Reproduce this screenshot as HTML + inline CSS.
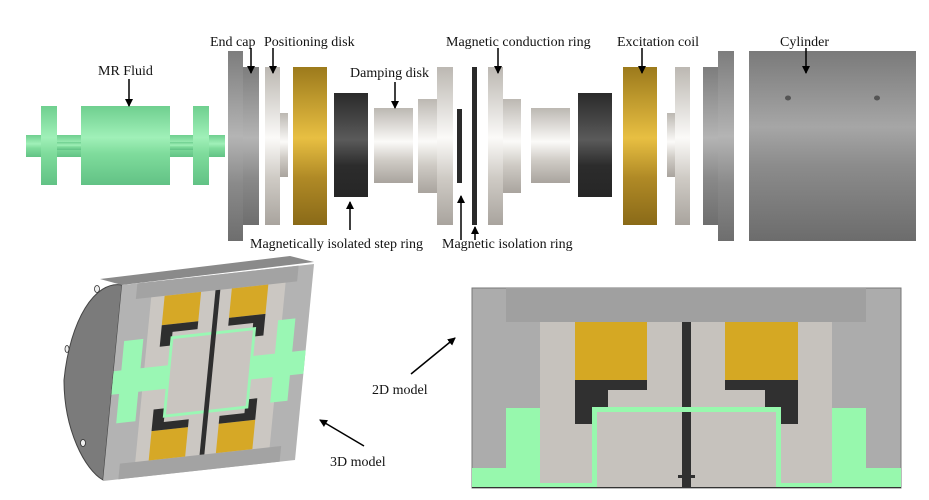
<!DOCTYPE html>
<html><head><meta charset="utf-8"><style>
html,body{margin:0;padding:0;background:#fff;}
svg{display:block;}
text{font-family:"Liberation Serif",serif;font-size:14px;fill:#111;}
</style></head><body>
<svg width="929" height="500" viewBox="0 0 929 500" xmlns="http://www.w3.org/2000/svg">
<defs>
<linearGradient id="gr" x1="0" y1="0" x2="0" y2="1">
<stop offset="0" stop-color="#6fcf8f"/><stop offset="0.4" stop-color="#a0f0b8"/><stop offset="0.6" stop-color="#7fdc9c"/><stop offset="1" stop-color="#62c285"/></linearGradient>
<linearGradient id="sv" x1="0" y1="0" x2="0" y2="1">
<stop offset="0" stop-color="#bcb8b2"/><stop offset="0.45" stop-color="#fbfaf8"/><stop offset="0.7" stop-color="#cfcbc5"/><stop offset="1" stop-color="#a9a49e"/></linearGradient>
<linearGradient id="dg" x1="0" y1="0" x2="0" y2="1">
<stop offset="0" stop-color="#7d7d7d"/><stop offset="0.45" stop-color="#b4b4b4"/><stop offset="0.7" stop-color="#8a8a8a"/><stop offset="1" stop-color="#6e6e6e"/></linearGradient>
<linearGradient id="cy" x1="0" y1="0" x2="0" y2="1">
<stop offset="0" stop-color="#7a7a7a"/><stop offset="0.4" stop-color="#a6a6a6"/><stop offset="0.6" stop-color="#8c8c8c"/><stop offset="1" stop-color="#6c6c6c"/></linearGradient>
<linearGradient id="au" x1="0" y1="0" x2="0" y2="1">
<stop offset="0" stop-color="#9c7a1c"/><stop offset="0.45" stop-color="#e8bf42"/><stop offset="0.7" stop-color="#b08a26"/><stop offset="1" stop-color="#8a6a18"/></linearGradient>
<linearGradient id="bk" x1="0" y1="0" x2="0" y2="1">
<stop offset="0" stop-color="#2a2a2a"/><stop offset="0.45" stop-color="#5a5a5a"/><stop offset="0.7" stop-color="#2c2c2c"/><stop offset="1" stop-color="#262626"/></linearGradient>
<marker id="ah" markerWidth="8" markerHeight="8" refX="7" refY="4" orient="auto" markerUnits="userSpaceOnUse"><path d="M0,0 L8,4 L0,8 z" fill="#000"/></marker>
</defs>

<!-- MR fluid -->
<rect x="26" y="135" width="199" height="22" fill="url(#gr)"/>
<rect x="57" y="142" width="136" height="8" fill="url(#gr)"/>
<rect x="41" y="106" width="16" height="79" fill="url(#gr)"/>
<rect x="193" y="106" width="16" height="79" fill="url(#gr)"/>
<rect x="81" y="106" width="89" height="79" fill="url(#gr)"/>

<!-- parts -->
<rect x="228" y="51" width="15" height="190" fill="url(#dg)"/>
<rect x="243" y="67" width="16" height="158" fill="url(#dg)"/>
<rect x="265" y="67" width="15" height="158" fill="url(#sv)"/>
<rect x="280" y="113" width="8" height="64" fill="url(#sv)"/>
<rect x="293" y="67" width="34" height="158" fill="url(#au)"/>
<rect x="334" y="93" width="34" height="104" fill="url(#bk)"/>
<rect x="374" y="108" width="39" height="75" fill="url(#sv)"/>
<rect x="418" y="99" width="19" height="94" fill="url(#sv)"/>
<rect x="437" y="67" width="16" height="158" fill="url(#sv)"/>
<rect x="457" y="109" width="5" height="74" fill="#2a2a2a"/>
<rect x="472" y="67" width="5" height="158" fill="#2a2a2a"/>
<rect x="488" y="67" width="15" height="158" fill="url(#sv)"/>
<rect x="503" y="99" width="18" height="94" fill="url(#sv)"/>
<rect x="531" y="108" width="39" height="75" fill="url(#sv)"/>
<rect x="578" y="93" width="34" height="104" fill="url(#bk)"/>
<rect x="623" y="67" width="34" height="158" fill="url(#au)"/>
<rect x="667" y="113" width="8" height="64" fill="url(#sv)"/>
<rect x="675" y="67" width="15" height="158" fill="url(#sv)"/>
<rect x="703" y="67" width="15" height="158" fill="url(#dg)"/>
<rect x="718" y="51" width="16" height="190" fill="url(#dg)"/>
<rect x="749" y="51" width="167" height="190" fill="url(#cy)"/>
<ellipse cx="788" cy="98" rx="3" ry="2.5" fill="#555"/>
<ellipse cx="877" cy="98" rx="3" ry="2.5" fill="#555"/>

<!-- top labels -->
<text x="210" y="46">End cap</text>
<text x="264" y="46">Positioning disk</text>
<text x="98" y="75">MR Fluid</text>
<text x="350" y="77">Damping disk</text>
<text x="446" y="46">Magnetic conduction ring</text>
<text x="617" y="46">Excitation coil</text>
<text x="780" y="46">Cylinder</text>
<text x="250" y="248">Magnetically isolated step ring</text>
<text x="442" y="248">Magnetic isolation ring</text>
<g stroke="#000" stroke-width="1.5" marker-end="url(#ah)">
<line x1="129" y1="79" x2="129" y2="106"/>
<line x1="251" y1="48" x2="251" y2="73"/>
<line x1="273" y1="48" x2="273" y2="73"/>
<line x1="395" y1="82" x2="395" y2="108"/>
<line x1="498" y1="48" x2="498" y2="73"/>
<line x1="642" y1="48" x2="642" y2="73"/>
<line x1="806" y1="48" x2="806" y2="73"/>
<line x1="350" y1="230" x2="350" y2="202"/>
<line x1="461" y1="240" x2="461" y2="196"/>
<line x1="475" y1="240" x2="475" y2="227"/>
</g>

<!-- 3D model -->
<path d="M122,285 C95,280 70,320 64,380 C64,430 85,470 103,480 Z" fill="#7b7b7b" stroke="#444" stroke-width="1"/>
<path d="M100,279 L290,256 L314,262 L122,285 Z" fill="#8a8a8a"/>
<ellipse cx="97" cy="289" rx="2.5" ry="3.5" fill="#eee" stroke="#333" stroke-width="0.8"/>
<ellipse cx="67" cy="349" rx="2" ry="3.5" fill="#eee" stroke="#333" stroke-width="0.8"/>
<ellipse cx="83" cy="443" rx="2.5" ry="3.5" fill="#eee" stroke="#333" stroke-width="0.8"/>
<g transform="matrix(1.92,-0.21,-0.19,1.96,122,285)">
<rect x="0" y="0" width="100" height="100" fill="#b3b3b3"/>
<rect x="16" y="6" width="70" height="88" fill="#cbc7c2"/>
<rect x="8" y="0" width="84" height="8" fill="#a3a3a3"/>
<rect x="8" y="92" width="84" height="8" fill="#a3a3a3"/>
<rect x="23" y="8" width="19" height="15" fill="#d6a826"/>
<rect x="58" y="8" width="19" height="15" fill="#d6a826"/>
<rect x="23" y="77" width="19" height="15" fill="#d6a826"/>
<rect x="58" y="77" width="19" height="15" fill="#d6a826"/>
<path d="M23,23 h19 v4 h-13 v7 h-6z M77,23 h-19 v4 h13 v7 h6z M23,77 h19 v-4 h-13 v-7 h-6z M77,77 h-19 v-4 h13 v-7 h6z" fill="#2e2e2e"/>
<rect x="0" y="44" width="100" height="12" fill="#9af7b4"/>
<rect x="4" y="29" width="10" height="42" fill="#9af7b4"/>
<rect x="84" y="27" width="9" height="42" fill="#9af7b4"/>
<rect x="29" y="30" width="43" height="40" fill="#c9c5c0" stroke="#9af7b4" stroke-width="1.5"/>
<rect x="49.5" y="8" width="2.5" height="84" fill="#2e2e2e"/>
</g>

<!-- 3D / 2D labels -->
<text x="330" y="466">3D model</text>
<line x1="364" y1="446" x2="320" y2="420" stroke="#000" stroke-width="1.5" marker-end="url(#ah)"/>
<text x="372" y="394">2D model</text>
<line x1="411" y1="374" x2="455" y2="338" stroke="#000" stroke-width="1.5" marker-end="url(#ah)"/>

<!-- 2D model -->
<rect x="472" y="288" width="429" height="200" fill="#acacac" stroke="#777" stroke-width="1"/>
<rect x="506" y="288" width="360" height="34" fill="#a0a0a0"/>
<rect x="540" y="322" width="292" height="162" fill="#c6c2bd"/>
<rect x="575" y="322" width="72" height="58" fill="#d5a823"/>
<rect x="725" y="322" width="73" height="58" fill="#d5a823"/>
<path d="M575,380 h72 v10 h-39 v34 h-33z" fill="#303030"/>
<path d="M798,380 h-73 v10 h40 v34 h33z" fill="#303030"/>
<path d="M506,408 h34 v76 h-68 v-16 h34z" fill="#97f8ad"/>
<path d="M866,408 h-34 v76 h69 v-16 h-35z" fill="#97f8ad"/>
<rect x="472" y="483" width="429" height="4" fill="#97f8ad"/>
<rect x="592" y="407" width="189" height="81" fill="#97f8ad"/>
<rect x="597" y="412" width="179" height="76" fill="#c6c2bd"/>
<rect x="682" y="322" width="9" height="85" fill="#303030"/>
<rect x="682" y="412" width="9" height="76" fill="#303030"/>
<rect x="678" y="475" width="17" height="3" fill="#303030"/>
<line x1="472" y1="487.5" x2="901" y2="487.5" stroke="#333" stroke-width="1"/>
</svg>
</body></html>
